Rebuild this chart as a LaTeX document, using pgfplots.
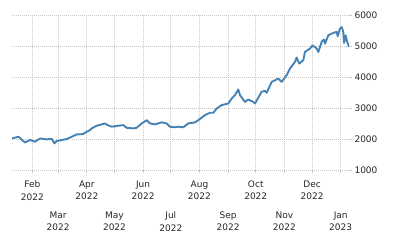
\documentclass[border=0pt]{standalone}
\usepackage{fontspec}
\setmainfont{DejaVu Sans}
\usepackage{pgfplots}
\pgfplotsset{compat=1.18}
\definecolor{linec}{HTML}{4682B4}
\definecolor{gridc}{HTML}{C8C8C8}
\begin{document}
\begin{tikzpicture}
\useasboundingbox (0,0) rectangle (400bp,250bp);
\begin{axis}[
  at={(12bp,80bp)}, anchor=south west,
  scale only axis, width=337bp, height=154.7bp,
  xmin=9, xmax=374, ymin=1000, ymax=6000,
  axis line style={draw=none},
  grid=major,
  major grid style={gridc, line width=0.8bp, dash pattern=on 1bp off 1bp},
  tick style={gridc, line width=0.8bp},
  major tick length=3bp, tick align=outside,
  xtick pos=bottom, ytick pos=right,
  yticklabel pos=right,
  ytick={1000,2000,3000,4000,5000,6000},
  /pgf/number format/assume math mode=true,
  yticklabel={\pgfmathprintnumber[1000 sep={}]{\tick}},
  yticklabel style={anchor=west, xshift=-1bp},
  tick label style={font=\fontsize{9bp}{12.7bp}\selectfont, text=black!85},
  xtick={31,90,151,212,273,334},
  xticklabels={Feb\\2022,Apr\\2022,Jun\\2022,Aug\\2022,Oct\\2022,Dec\\2022},
  xticklabel style={align=center, anchor=north, yshift=-4bp},
  extra x ticks={59,120,181,243,304,365},
  extra x tick labels={Mar\\2022,May\\2022,Jul\\2022,Sep\\2022,Nov\\2022,Jan\\2023},
  extra x tick style={grid=major, xticklabel style={yshift=-31bp}},
]
\addplot[linec, line width=1.9bp, line join=round] coordinates {
(9,2022)(16,2075)(23,1890)(28.5,1970)(33.9,1915)(39.3,2020)(46.6,1990)(52,2010)
(54.8,1860)(57.4,1935)(62.8,1970)(68.3,2000)(73.7,2075)(79.1,2150)(86.2,2160)
(88,2205)(93.5,2290)(95.3,2345)(100.7,2430)(109.7,2505)(112.7,2450)(117,2400)
(124.1,2430)(129.5,2450)(133.2,2365)(140.4,2345)(144,2365)(149.5,2505)(154.9,2610)
(158.5,2505)(163.9,2475)(171.1,2540)(176.5,2505)(180.1,2400)(185.5,2380)(189.1,2400)
(194.5,2380)(199.9,2505)(207.2,2540)(210.8,2610)(218,2775)(223.4,2850)(227,2850)
(230.7,2990)(236.1,3095)(243.3,3150)(246.9,3310)(250.5,3420)(254.1,3600)(255.9,3420)
(261.3,3200)(264.9,3280)(270.3,3200)(272.2,3150)(279.4,3530)(283,3560)(284.8,3495)
(290.3,3850)(297.4,3955)(301.1,3850)(306.5,4065)(310.1,4280)(315.5,4495)(317.3,4635)
(320.1,4440)(324.5,4550)(326.3,4815)(331.7,4925)(334.6,5030)(339,4925)(340.7,4815)
(344.4,5140)(346.9,5215)(348,5085)(351.6,5355)(357,5430)(360.6,5465)(361.7,5325)
(364.2,5570)(366.1,5620)(367.8,5465)(368.6,5105)(370.4,5355)(371.5,5195)(374,4980)
};
\end{axis}
\end{tikzpicture}
\end{document}
